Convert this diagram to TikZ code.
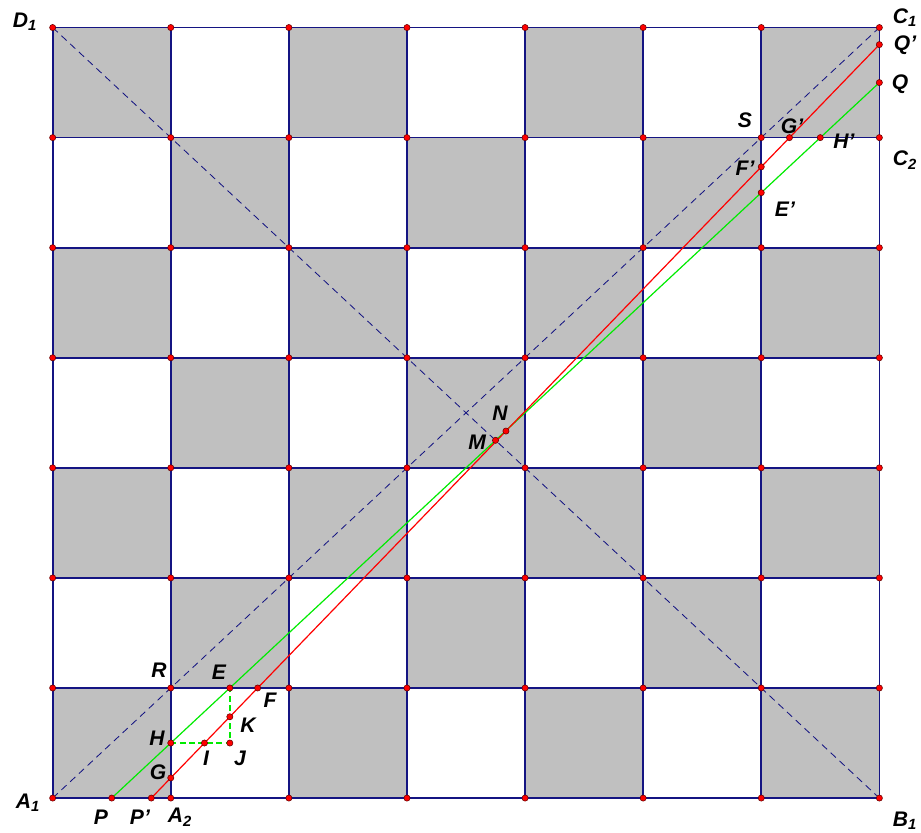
\documentclass[tikz,border=0pt]{standalone}
\usepackage{fontspec}
\setmainfont{Liberation Sans}
\usepackage{xcolor}
\usetikzlibrary{positioning}
\definecolor{gridnavy}{RGB}{20,20,130}
\definecolor{cellgray}{RGB}{192,192,192}
\definecolor{linegreen}{RGB}{0,235,0}
\definecolor{linered}{RGB}{255,0,0}

\begin{document}
\begin{tikzpicture}[xscale=2.9525, yscale=2.751,
  every node/.style={font=\fontsize{15}{15}\selectfont\bfseries\itshape},
  dot/.style={circle, fill=red, draw=red!40!black, line width=0.4pt, inner sep=0pt, minimum size=4.4pt},
  gridline/.style={gridnavy, line width=1.2pt},
  diag/.style={gridnavy, line width=0.6pt, dash pattern=on 5pt off 3.5pt},
  redline/.style={linered, line width=0.85pt},
  greenline/.style={linegreen, line width=0.85pt},
  helper/.style={draw=linegreen, line width=1pt, dash pattern=on 4pt off 2.5pt}]
\useasboundingbox (-0.446,-0.309) rectangle (7.352,7.252);

% Lattice points and board
\foreach \i in {0,...,7}
  \foreach \j in {0,...,7}
    \coordinate (v\i\j) at (\i,\j);
\foreach \i in {0,...,6}
  \foreach \j in {0,...,6} {
    \pgfmathparse{int(mod(\i+\j,2))}
    \ifnum\pgfmathresult=0 \fill[cellgray] (v\i\j) rectangle ++(1,1); \fi
  }
\foreach \i in {0,...,7} {
  \draw[gridline] (v\i0) -- (v\i7);
  \draw[gridline] (v0\i) -- (v7\i);
}

% Named points
\coordinate (A1) at (0,0);
\coordinate (B1) at (7,0);
\coordinate (C1) at (7,7);
\coordinate (D1) at (0,7);
\coordinate (A2) at (1,0);
\coordinate (C2) at (7,6);
\coordinate (R) at (1,1);
\coordinate (S) at (6,6);
\coordinate (P) at (0.5,0);
\coordinate (Q) at (7,6.5);
\coordinate (H) at (1,0.5);
\coordinate (E) at (1.5,1);
\coordinate (J) at (1.5,0.5);
\coordinate (Hp) at (6.5,6);
\coordinate (Ep) at (6,5.5);
\coordinate (M) at (3.75,3.25);
\coordinate (Pp) at (0.835,0);
\coordinate (Qp) at (7,6.845);
\coordinate (G) at (1,0.1832);
\coordinate (I) at (1.2853,0.5);
\coordinate (K) at (1.5,0.7384);
\coordinate (F) at (1.7357,1);
\coordinate (Fp) at (6,5.7347);
\coordinate (Gp) at (6.2389,6);
\coordinate (N) at (3.838,3.334);

% Diagonals
\draw[diag] (A1) -- (C1);
\draw[diag] (D1) -- (B1);

% Green and red lines
\draw[greenline] (P) -- (Q);
\draw[redline] (Pp) -- (Qp);
\draw[helper] (H) -- (J) -- (E);

% Dots
\foreach \i in {0,...,7}
  \foreach \j in {0,...,7}
    \node[dot] (d\i\j) at (v\i\j) {};
\foreach \p in {P,Q,H,E,J,Hp,Ep,M,Pp,Qp,G,I,K,F,Fp,Gp,N}
  \node[dot] (d\p) at (\p) {};

% Labels
\node (lA1) at (-0.209,-0.045) {A\textsubscript{1}};
\node (lB1) at (7.217,-0.205) {B\textsubscript{1}};
\node (lC1) at (7.217,7.088) {C\textsubscript{1}};
\node (lD1) at (-0.235,7.052) {D\textsubscript{1}};
\node (lA2) at (1.078,-0.173) {A\textsubscript{2}};
\node (lC2) at (7.217,5.798) {C\textsubscript{2}};
\node (lP) at (0.409,-0.173) {P};
\node (lPp) at (0.739,-0.173) {P'};
\node (lQ) at (7.175,6.489) {Q};
\node (lQp) at (7.217,6.843) {Q'};
\node (lR) at (0.9,1.163) {R};
\node (lS) at (5.862,6.161) {S};
\node (lE) at (1.408,1.145) {E};
\node (lF) at (1.84,0.89) {F};
\node (lK) at (1.654,0.663) {K};
\node (lH) at (0.883,0.545) {H};
\node (lI) at (1.298,0.364) {I};
\node (lJ) at (1.586,0.364) {J};
\node (lG) at (0.892,0.236) {G};
\node (lM) at (3.593,3.235) {M};
\node (lN) at (3.788,3.499) {N};
\node (lGp) at (6.26,6.107) {G'};
\node (lHp) at (6.7,5.97) {H'};
\node (lFp) at (5.862,5.725) {F'};
\node (lEp) at (6.2,5.355) {E'};
\end{tikzpicture}
\end{document}
